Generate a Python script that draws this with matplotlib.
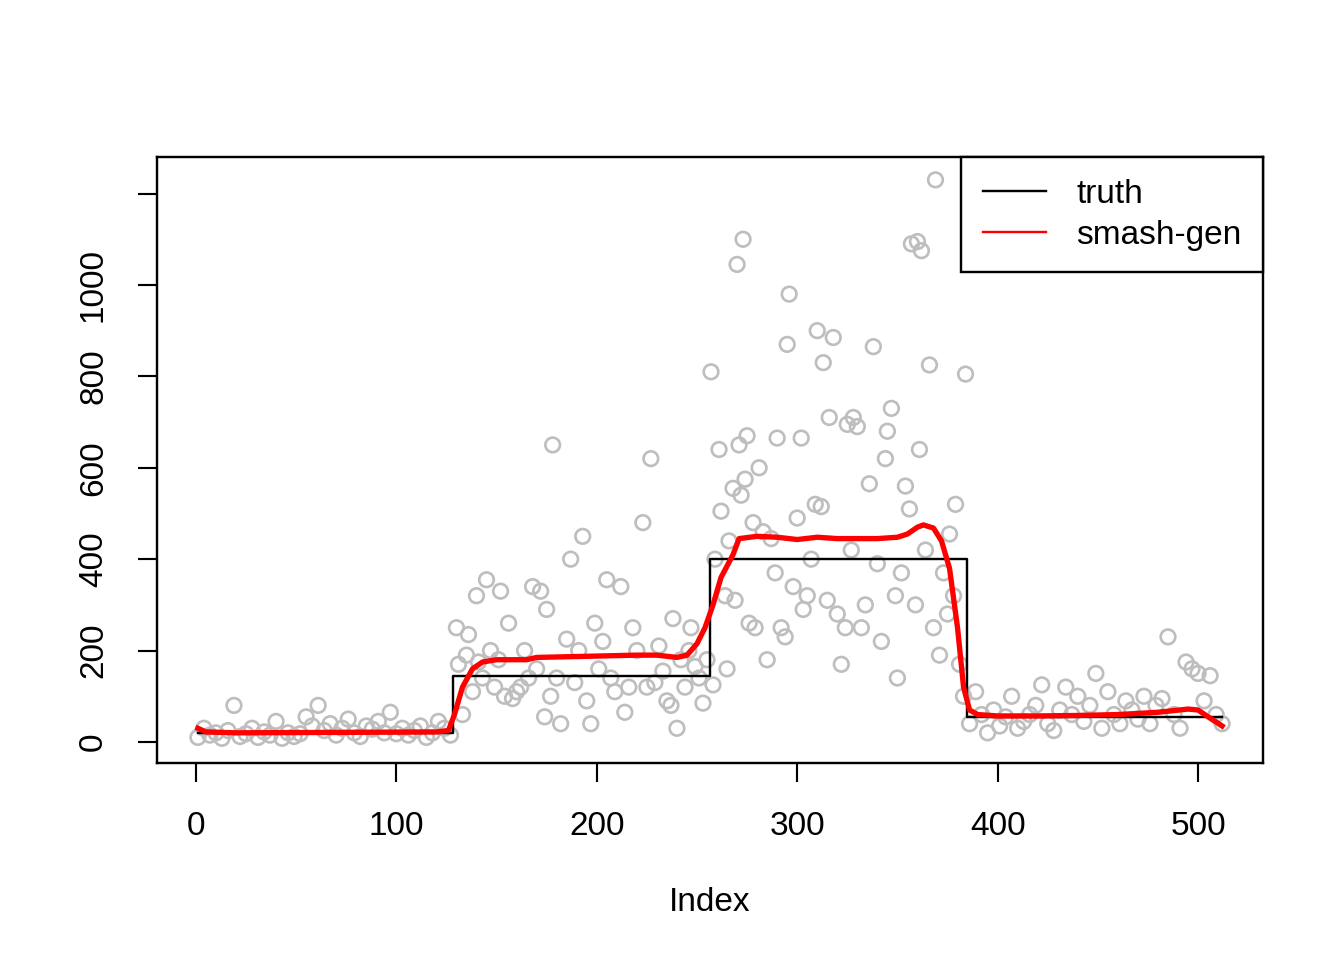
import matplotlib
matplotlib.use("Agg")
import matplotlib.pyplot as plt
from matplotlib.lines import Line2D

plt.rcParams['font.family'] = ['Liberation Sans', 'DejaVu Sans']

# scatter points (subset)
seg1_x = list(range(1, 129, 3))
seg1_y = [10, 30, 15, 20, 8, 25, 80, 12, 18, 30, 10, 22, 15, 45, 8, 20, 12, 18, 55, 35,
          80, 25, 40, 15, 30, 50, 20, 12, 35, 28, 45, 20, 65, 18, 30, 15, 25, 35, 10, 20,
          45, 30, 15]
seg2_x = [130, 131, 133, 135, 136, 138, 140, 141, 143, 145, 147, 149, 151, 152, 154, 156, 158, 160,
          162, 164, 166, 168, 170, 172, 174, 175, 177, 178, 180, 182, 185, 187, 189, 191, 193,
          195, 197, 199, 201, 203, 205, 207, 209, 212, 214, 216, 218, 220, 223, 225, 227, 229,
          231, 233, 235, 237, 238, 240, 242, 244, 246, 247, 249, 251, 253, 255]
seg2_y = [250, 170, 60, 190, 235, 110, 320, 175, 140, 355, 200, 120, 180, 330, 100, 260, 95, 110,
          120, 200, 140, 340, 160, 330, 55, 290, 100, 650, 140, 40, 225, 400, 130, 200, 450,
          90, 40, 260, 160, 220, 355, 140, 110, 340, 65, 120, 250, 200, 480, 120, 620, 130,
          210, 155, 90, 80, 270, 30, 180, 120, 200, 250, 165, 140, 85, 180]
seg3_x = [257, 258, 259, 261, 262, 264, 265, 266, 268, 269, 270, 271, 272, 273, 274, 275, 276, 278,
          279, 281, 283, 285, 287, 289, 290, 292, 294, 295, 296, 298, 300, 302, 303, 305, 307,
          309, 310, 312, 313, 315, 316, 318, 320, 322, 324, 325, 327, 328, 330, 332, 334, 336,
          338, 340, 342, 344, 345, 347, 349, 350, 352, 354, 356, 357, 359, 360, 361, 362, 364,
          366, 368, 369, 371, 373, 375, 376, 378, 379, 381, 383, 384]
seg3_y = [810, 125, 400, 640, 505, 320, 160, 440, 555, 310, 1045, 650, 540, 1100, 575, 670, 260,
          480, 250, 600, 460, 180, 445, 370, 665, 250, 230, 870, 980, 340, 490, 665, 290, 320,
          400, 520, 900, 515, 830, 310, 710, 885, 280, 170, 250, 695, 420, 710, 690, 250, 300,
          565, 865, 390, 220, 620, 680, 730, 320, 140, 370, 560, 510, 1090, 300, 1095, 640,
          1075, 420, 825, 250, 1230, 190, 370, 280, 455, 320, 520, 170, 100, 805]
seg4_x = list(range(386, 513, 3))
seg4_y = [40, 110, 60, 20, 70, 35, 55, 100, 30, 45, 60, 80, 125, 40, 25, 70, 120, 60, 100, 45,
          80, 150, 30, 110, 60, 40, 90, 70, 50, 100, 40, 80, 95, 230, 60, 30, 175, 160, 150,
          90, 145, 60, 40]

truth_x = [1, 128.5, 128.5, 256.5, 256.5, 384.5, 384.5, 512]
truth_y = [20, 20, 145, 145, 400, 400, 55, 55]

smash_x = [1, 5, 20, 120, 126, 129, 133, 138, 143, 150, 165, 170, 200, 220, 230, 240, 245, 250,
           254, 258, 262, 268, 271, 280, 290, 300, 310, 320, 340, 350, 355, 360, 363, 368, 372,
           376, 380, 383, 386, 390, 400, 420, 440, 460, 480, 495, 500, 505, 512]
smash_y = [30, 22, 20, 22, 25, 60, 120, 160, 175, 180, 180, 185, 188, 190, 190, 185, 190, 215,
           250, 300, 360, 410, 445, 450, 448, 443, 448, 445, 445, 448, 455, 470, 475, 468, 440,
           380, 250, 120, 70, 60, 57, 57, 58, 60, 65, 72, 70, 55, 35]

fig = plt.figure(figsize=(7, 5), dpi=192)
ax = fig.add_axes([157/1344, 197/960, (1263-157)/1344, (763-157)/960])
for xs, ys in [(seg1_x, seg1_y), (seg2_x, seg2_y), (seg3_x, seg3_y), (seg4_x, seg4_y)]:
    ax.scatter(xs, ys, s=30, facecolors="none", edgecolors="#BEBEBE", linewidths=1.0)
ax.plot(truth_x, truth_y, color="black", lw=0.9)
ax.plot(smash_x, smash_y, color="red", lw=2.0)
ax.set_xlim(-19.4, 532.4)
ax.set_ylim(-46, 1280)
ax.set_xticks([0, 100, 200, 300, 400, 500])
ax.set_yticks([0, 200, 400, 600, 800, 1000, 1200])
ax.set_yticklabels(["0", "200", "400", "600", "800", "1000", ""], rotation=90, va="center")
ax.tick_params(labelsize=12.5, length=7, pad=11)
ax.set_xlabel("Index", fontsize=12.5, labelpad=17)
for sp in ax.spines.values():
    sp.set_linewidth(0.9)
handles = [Line2D([], [], color="black", lw=0.9), Line2D([], [], color="red", lw=0.9)]
leg = ax.legend(handles, ["truth", "smash-gen"], loc="upper right", fontsize=12.5, fancybox=False,
                edgecolor="black", borderaxespad=0, handlelength=1.9, handletextpad=0.9,
                borderpad=0.65, labelspacing=0.3, framealpha=1)
leg.get_frame().set_linewidth(0.9)
fig.savefig("out.png")
